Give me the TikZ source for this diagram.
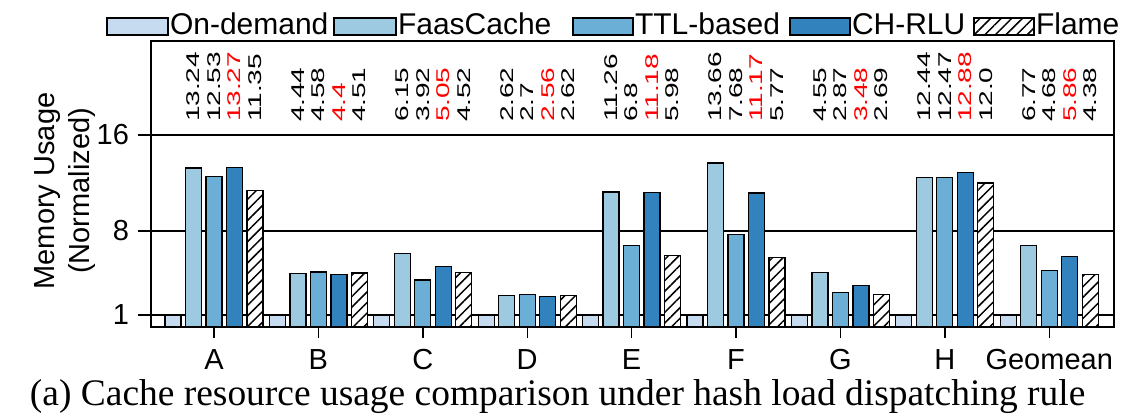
\documentclass[tikz,border=0pt]{standalone}
\usepackage{fontspec}
\setmainfont{Liberation Sans}
\newfontfamily\capfont{Liberation Serif}
\usetikzlibrary{patterns.meta}
\definecolor{cOD}{HTML}{C6DBEF}
\definecolor{cFC}{HTML}{9ECAE1}
\definecolor{cTTL}{HTML}{6BAED6}
\definecolor{cCH}{HTML}{3182BD}
\definecolor{cRed}{HTML}{FF0000}
\newcommand\thinnum[1]{\scalebox{1}[0.66]{#1}}
\begin{document}
\begin{tikzpicture}[x=1pt,y=1pt,
  every node/.style={inner sep=0pt, outer sep=0pt},
  barst/.style={draw=black, line width=1.3pt},
  hatchst/.style={barst, preaction={fill=white}, pattern={Lines[angle=45,distance=7.5pt,line width=1.5pt]}},
  gridst/.style={draw=black, line width=1.2pt},
  axisst/.style={draw=black, line width=1.4pt},
  numst/.style={font=\fontsize{28}{28}\selectfont, rotate=90, anchor=west},
  lblst/.style={font=\fontsize{29}{29}\selectfont},
  legst/.style={font=\fontsize{30}{30}\selectfont, anchor=base west}]
\useasboundingbox (0,0) rectangle (1129,415);
\clip (0,0) rectangle (1129,415);
% grid lines and y ticks
\draw[gridst] (138,100) -- (1114,100);
\draw[gridst] (138,184) -- (1114,184);
\draw[gridst] (138,280) -- (1114,280);
\node[lblst, anchor=east] (t1) at (129,100) {1};
\node[lblst, anchor=east] (t8) at (129,184) {8};
\node[lblst, anchor=east] (t16) at (129,280) {16};
% y label
\node[lblst, rotate=90] (yl1) at (48,224) {Memory Usage};
\node[lblst, rotate=90] (yl2) at (82,224) {(Normalized)};
% bars
\foreach \lab/\a/\b/\c/\d [count=\g from 0] in {
  A/13.24/12.53/13.27/11.35,
  B/4.44/4.58/4.4/4.51,
  C/6.15/3.92/5.05/4.52,
  D/2.62/2.7/2.56/2.62,
  E/11.26/6.8/11.18/5.98,
  F/13.66/7.68/11.17/5.77,
  G/4.55/2.87/3.48/2.69,
  H/12.44/12.47/12.88/12.0,
  Geomean/6.77/4.68/5.86/4.38}{
  \pgfmathsetmacro\cx{214+104.4*\g}
  \draw[barst, fill=cOD] ({\cx-49},88) rectangle ({\cx-33},100);
  \draw[barst, fill=cFC] ({\cx-28.5},88) rectangle ({\cx-12.5},{88+12*\a});
  \draw[barst, fill=cTTL] ({\cx-8},88) rectangle ({\cx+8},{88+12*\b});
  \draw[barst, fill=cCH] ({\cx+12.5},88) rectangle ({\cx+28.5},{88+12*\c});
  \draw[hatchst] ({\cx+33},88) rectangle ({\cx+49},{88+12*\d});
  \node[numst] (na\g) at ({\cx-20.5},293) {\thinnum{\a}};
  \node[numst] (nb\g) at ({\cx},293) {\thinnum{\b}};
  \node[numst, text=cRed] (nc\g) at ({\cx+20.5},293) {\thinnum{\c}};
  \node[numst] (nd\g) at ({\cx+41},293) {\thinnum{\d}};
  \draw[axisst] ({\cx},88) -- ({\cx},77);
  \node[lblst, anchor=base] (x\g) at ({\cx},46) {\lab};
}
% frame
\draw[axisst] (151,88) rectangle (1114,374);
% legend
\draw[barst, fill=cOD] (107,380) rectangle (168,397);
\node[legst] (l1) at (170,380) {On-demand};
\draw[barst, fill=cFC] (334,380) rectangle (396,397);
\node[legst] (l2) at (398,380) {FaasCache};
\draw[barst, fill=cTTL] (573,380) rectangle (633,397);
\node[legst] (l3) at (635,380) {TTL-based};
\draw[barst, fill=cCH] (790,380) rectangle (850,397);
\node[legst] (l4) at (852,380) {CH-RLU};
\draw[hatchst] (974,380) rectangle (1034,397);
\node[legst] (l5) at (1036,380) {Flame};
% caption
\node[anchor=base west] (cap) at (30,10) {\resizebox{1055pt}{!}{\capfont (a) Cache resource usage comparison under hash load dispatching rule}};
\end{tikzpicture}
\end{document}
